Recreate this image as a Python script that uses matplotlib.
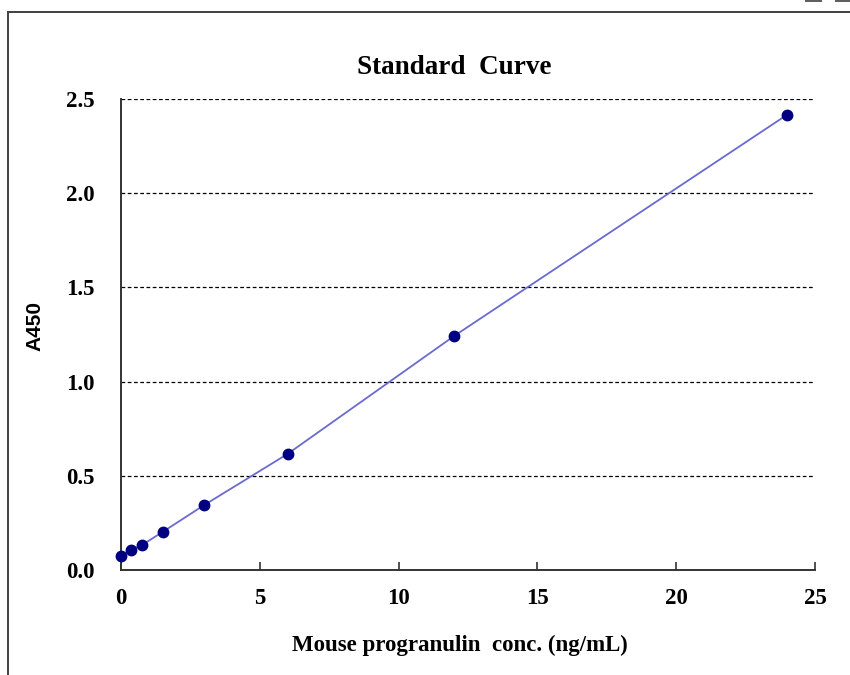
import matplotlib
matplotlib.use("Agg")
import matplotlib.pyplot as plt
from matplotlib.lines import Line2D
from matplotlib.patches import Rectangle

# standard curve data
conc = [0, 0.375, 0.75, 1.5, 3, 6, 12, 24]
a450 = [0.074, 0.107, 0.132, 0.202, 0.345, 0.616, 1.242, 2.417]
x_ticks = [0, 5, 10, 15, 20, 25]
y_ticks = [0.0, 0.5, 1.0, 1.5, 2.0, 2.5]

W, H = 850, 675
serif = ["Liberation Serif", "DejaVu Serif"]

fig = plt.figure(figsize=(W / 100, H / 100), dpi=100)
ax = fig.add_axes([121 / W, 1 - 570 / H, (815 - 121) / W, (570 - 99) / H])

# horizontal dashed grid
for y in y_ticks[1:]:
    ax.axhline(y, color="black", lw=0.9, ls=(0, (3, 2)), zorder=1)

ax.plot(conc, a450, color="#6a6ad0", lw=1.3, zorder=2)
ax.plot(conc, a450, "o", color="#000080", ms=7.5, zorder=3, clip_on=False)

ax.set_xlim(0, 25)
ax.set_ylim(0, 2.5)
ax.set_xticks(x_ticks)
ax.set_yticks(y_ticks)
ax.set_xticklabels([str(t) for t in x_ticks], fontfamily=serif, fontweight="bold", fontsize=16.5)
ax.set_yticklabels([f"{t:.1f}" for t in y_ticks], fontfamily=serif, fontweight="bold", fontsize=16.5)
ax.tick_params(axis="x", direction="in", length=6, width=1.2, color="#333333", pad=13)
ax.tick_params(axis="y", length=0, pad=19)

for s in ["top", "right"]:
    ax.spines[s].set_visible(False)
for s in ["left", "bottom"]:
    ax.spines[s].set_color("#333333")
    ax.spines[s].set_linewidth(1.4)

fig.text(454 / W, 1 - 68 / H, "Standard  Curve", ha="center", va="center",
         fontfamily=serif, fontweight="bold", fontsize=19.5)
fig.text(460 / W, 1 - 645 / H, "Mouse progranulin  conc. (ng/mL)", ha="center", va="center",
         fontfamily=serif, fontweight="bold", fontsize=16.5)
fig.text(35 / W, 1 - 326 / H, "A450", ha="center", va="center", rotation=90,
         fontfamily=["Liberation Sans", "DejaVu Sans"], fontweight="bold", fontsize=15)

# outer frame (open on right and bottom like the cropped reference)
fig.add_artist(Line2D([8 / W, 8 / W], [0, 1 - 12 / H], transform=fig.transFigure,
                      color="#404040", lw=1.4))
fig.add_artist(Line2D([8 / W, 1], [1 - 12 / H, 1 - 12 / H], transform=fig.transFigure,
                      color="#404040", lw=1.4))
for x0, x1 in [(805, 822), (835, 850)]:
    fig.add_artist(Rectangle((x0 / W, 1 - 2 / H), (x1 - x0) / W, 2 / H,
                             transform=fig.transFigure, color="#606060", lw=0))

fig.savefig("out.png", dpi=100)
